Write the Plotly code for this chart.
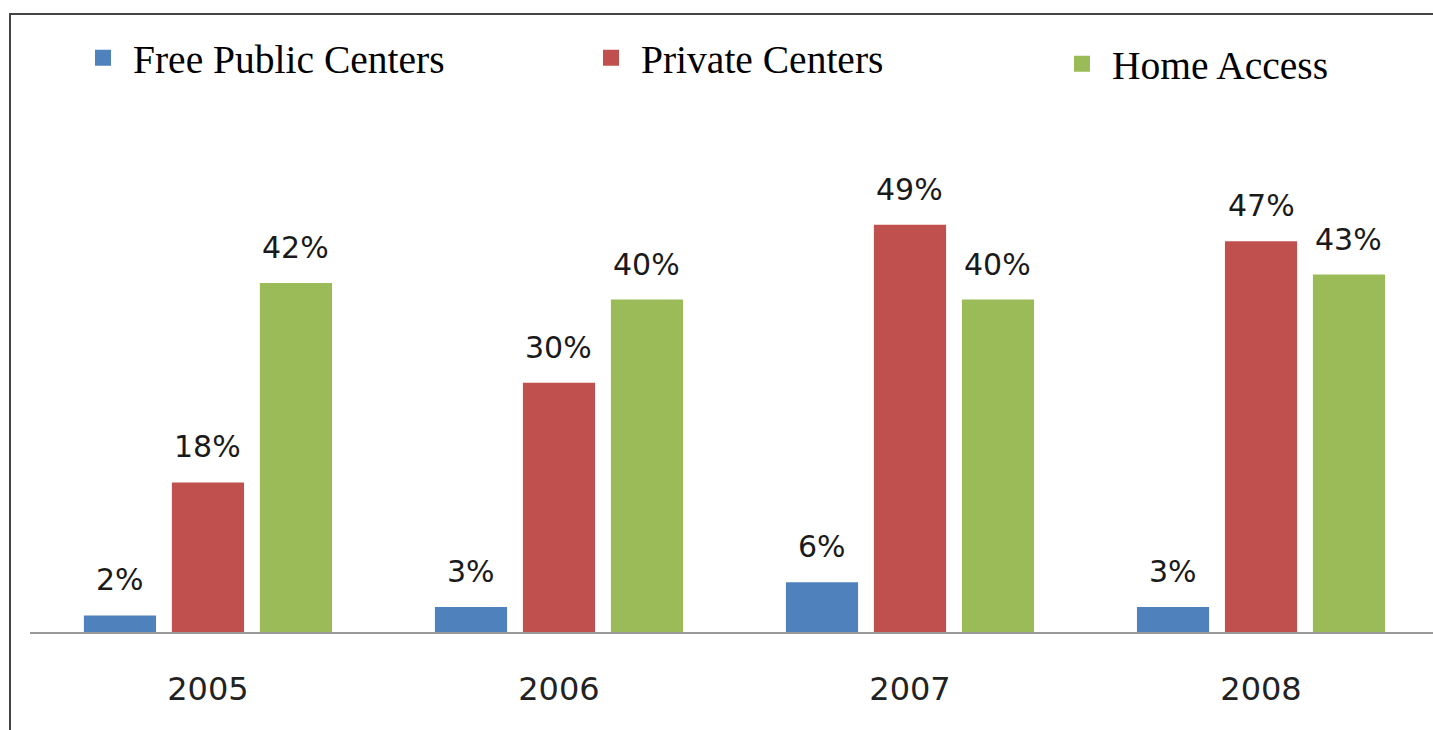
import plotly.graph_objects as go

# ---- data ----
years = ["2005", "2006", "2007", "2008"]
free_public = [2, 3, 6, 3]
private_centers = [18, 30, 49, 47]
home_access = [42, 40, 40, 43]
series_names = ["Free Public Centers", "Private Centers", "Home Access"]

# ---- style ----
colors = ["#4F81BD", "#C0504D", "#9BBB59"]
BARGAP = 0.248
BARGROUPGAP = 0.18
OFF = 0  # page body margin (removed via post_script)
W, H = 1433 - OFF, 730 - OFF
ML, MR, MT = 30 - OFF, 0, 100 - OFF
MB = H - (632 - OFF)
PW, PH = W - ML - MR, H - MT - MB

series = [free_public, private_centers, home_access]
legend_ids = ["legend", "legend2", "legend3"]

fig = go.Figure()
for name, vals, col in zip(series_names, series, colors):
    fig.add_trace(go.Bar(x=years, y=vals, name=name, marker=dict(color=col, line=dict(width=0)),
                         showlegend=False, hoverinfo="x+y+name"))
for name, col, lid in zip(series_names, colors, legend_ids):
    fig.add_trace(go.Scatter(x=[None], y=[None], mode="markers", name=name,
                             marker=dict(symbol="square", size=16, color=col),
                             legend=lid, showlegend=True, hoverinfo="skip"))

slot = (1 - BARGAP) / len(series)
annotations = []
for i, vals in enumerate(series):
    for j, v in enumerate(vals):
        annotations.append(dict(x=j + (i - 1) * slot, y=v, xref="x", yref="y",
                                text=f"{v}%", showarrow=False, yanchor="bottom", yshift=16,
                                font=dict(family="DejaVu Sans", size=30, color="#1a1a1a")))

# screen pixel -> paper coordinates
def px_to_paper_x(px):
    return (px - OFF - ML) / PW

def px_to_paper_y(py):
    return 1 + (MT - (py - OFF)) / PH

frame_path = (f"M {px_to_paper_x(10)},{px_to_paper_y(760)} "
              f"L {px_to_paper_x(10)},{px_to_paper_y(14)} "
              f"L {px_to_paper_x(1460)},{px_to_paper_y(14)}")

legend_font = dict(family="Liberation Serif", size=39.5, color="black")
def leg(x_px, y_px):
    return dict(x=px_to_paper_x(x_px), y=px_to_paper_y(y_px), xanchor="left", yanchor="middle",
                orientation="h", font=legend_font, itemwidth=50, bgcolor="rgba(0,0,0,0)",
                borderwidth=0)

fig.update_layout(
    width=W, height=H,
    margin=dict(l=ML, r=MR, t=MT, b=MB, pad=0),
    paper_bgcolor="white", plot_bgcolor="white",
    barmode="group", bargap=BARGAP, bargroupgap=BARGROUPGAP,
    xaxis=dict(type="category", range=[-0.507, 3.49], showline=True, linecolor="#999999",
               linewidth=2, ticks="", showgrid=False, zeroline=False,
               tickfont=dict(family="DejaVu Sans", size=32, color="#222"),
               ticklabelstandoff=28),
    yaxis=dict(visible=False, range=[0, 64]),
    legend=leg(73, 58),
    legend2=leg(581, 58),
    legend3=leg(1052, 64),
    annotations=annotations,
    shapes=[dict(type="path", xref="paper", yref="paper", path=frame_path,
                 line=dict(color="#444", width=2))],
)

fig.write_html("out.html", config={"displayModeBar": False},
               post_script="document.body.style.margin='0';document.body.style.overflow='hidden';")
